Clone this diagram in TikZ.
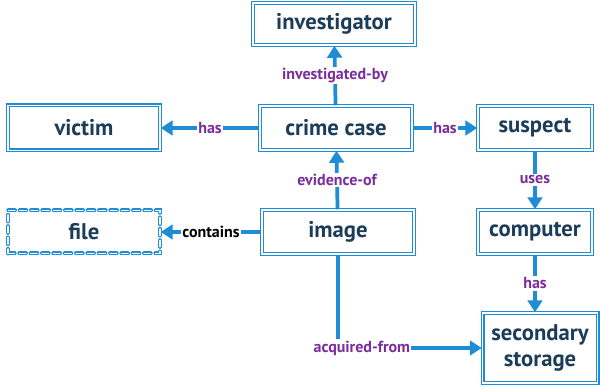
\documentclass[tikz,border=0pt]{standalone}
\usepackage{fontspec}
\setmainfont{PT Sans}
\usetikzlibrary{arrows.meta}
\definecolor{edgeblue}{HTML}{1F8DD6}
\definecolor{navy}{HTML}{1C3D5A}
\definecolor{lblpurple}{HTML}{7B2D9B}
\tikzset{
  concept/.style={draw=edgeblue, line width=1.1pt, double=white, double distance=0.8pt,
    fill=white, text=navy, font=\bfseries\fontsize{17}{20}\selectfont, align=center, inner sep=0pt},
  dashedconcept/.style={concept, dash pattern=on 5pt off 3.5pt, line cap=round},
  rel/.style={draw=edgeblue, line width=2.8pt, -{Triangle[length=9pt,width=11pt]}},
  lbl/.style={fill=white, text=lblpurple, font=\bfseries\fontsize{12}{12}\selectfont, inner sep=1pt},
  blbl/.style={lbl, text=black}
}
\begin{document}
\begin{tikzpicture}[x=0.75pt,y=-0.75pt]
\useasboundingbox[fill=white] (0,0) rectangle (600,388);
\node[concept, minimum width=121.5pt, minimum height=31.5pt] (inv) at (334,24) {investigator};
\node[concept, minimum width=114pt, minimum height=33.75pt] (vic) at (84,128) {victim};
\node[concept, minimum width=114pt, minimum height=33pt] (crime) at (336,128) {crime case};
\node[concept, minimum width=85.5pt, minimum height=33pt] (sus) at (535,128) {suspect};
\node[dashedconcept, minimum width=114pt, minimum height=32.25pt] (file) at (84,232) {file};
\node[concept, minimum width=114pt, minimum height=33pt] (img) at (338,232) {image};
\node[concept, minimum width=85.5pt, minimum height=33pt] (comp) at (535,232) {computer};
\node[concept, minimum width=86.25pt, minimum height=52.5pt] (stor) at (540,348) {secondary\\storage};

\draw[rel] (crime) -- node[lbl] {investigated-by} (inv);
\draw[rel] (crime) -- node[lbl] {has} (vic);
\draw[rel] (crime) -- node[lbl] {has} (sus);
\draw[rel] (img) -- node[lbl] {evidence-of} (crime);
\draw[rel] (img) -- node[blbl] {contains} (file);
\draw[rel] (sus) -- node[lbl] {uses} (comp);
\draw[rel] (comp.south) -- node[lbl] {has} (stor.north -| comp.south);
\draw[rel] (img.south) |- node[lbl, pos=0.583] {acquired-from} (stor.west);
\end{tikzpicture}
\end{document}
